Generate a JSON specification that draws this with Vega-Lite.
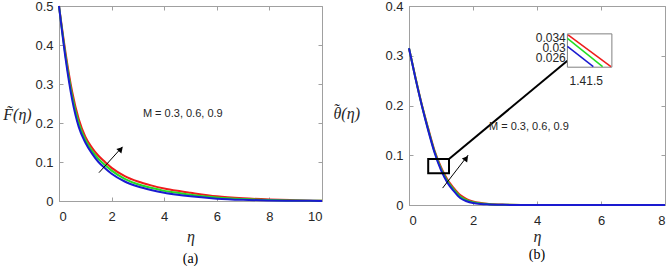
{
  "$schema": "https://vega.github.io/schema/vega-lite/v6.json",
  "padding": {"left": 2, "top": -1, "right": 0, "bottom": 0},
  "spacing": 5,
  "background": "white",
  "config": {
    "view": {"stroke": "#a0a0a0", "strokeWidth": 1},
    "font": "Liberation Sans",
    "axis": {
      "grid": false,
      "domainColor": "#a0a0a0",
      "tickColor": "#a0a0a0",
      "tickSize": -4,
      "labelPadding": 13,
      "labelColor": "#262626",
      "labelFont": "Liberation Sans",
      "labelFontSize": 13,
      "format": "~r",
      "titleFont": "Liberation Serif",
      "titleFontStyle": "italic",
      "titleFontWeight": "normal",
      "titleFontSize": 16,
      "titleColor": "#262626"
    }
  },
  "datasets": {
    "fa": [
      {"e": 0, "v": 0.5, "M": "0.9"}, {"e": 0.25, "v": 0.38, "M": "0.9"}, {"e": 0.5, "v": 0.28, "M": "0.9"}, {"e": 0.75, "v": 0.21, "M": "0.9"}, {"e": 1, "v": 0.165, "M": "0.9"}, {"e": 1.25, "v": 0.137, "M": "0.9"}, {"e": 1.5, "v": 0.116, "M": "0.9"}, {"e": 1.75, "v": 0.1, "M": "0.9"}, {"e": 2, "v": 0.085, "M": "0.9"}, {"e": 2.5, "v": 0.064, "M": "0.9"}, {"e": 3, "v": 0.05, "M": "0.9"}, {"e": 3.5, "v": 0.04, "M": "0.9"}, {"e": 4, "v": 0.032, "M": "0.9"}, {"e": 4.5, "v": 0.026, "M": "0.9"}, {"e": 5, "v": 0.021, "M": "0.9"}, {"e": 6, "v": 0.012, "M": "0.9"}, {"e": 7, "v": 0.007, "M": "0.9"}, {"e": 8, "v": 0.004, "M": "0.9"}, {"e": 9, "v": 0.002, "M": "0.9"}, {"e": 10, "v": 0.0005, "M": "0.9"},
      {"e": 0, "v": 0.5, "M": "0.6"}, {"e": 0.25, "v": 0.372, "M": "0.6"}, {"e": 0.5, "v": 0.27, "M": "0.6"}, {"e": 0.75, "v": 0.2, "M": "0.6"}, {"e": 1, "v": 0.157, "M": "0.6"}, {"e": 1.25, "v": 0.129, "M": "0.6"}, {"e": 1.5, "v": 0.108, "M": "0.6"}, {"e": 1.75, "v": 0.092, "M": "0.6"}, {"e": 2, "v": 0.078, "M": "0.6"}, {"e": 2.5, "v": 0.057, "M": "0.6"}, {"e": 3, "v": 0.043, "M": "0.6"}, {"e": 3.5, "v": 0.034, "M": "0.6"}, {"e": 4, "v": 0.026, "M": "0.6"}, {"e": 4.5, "v": 0.021, "M": "0.6"}, {"e": 5, "v": 0.016, "M": "0.6"}, {"e": 6, "v": 0.009, "M": "0.6"}, {"e": 7, "v": 0.005, "M": "0.6"}, {"e": 8, "v": 0.0027, "M": "0.6"}, {"e": 9, "v": 0.0013, "M": "0.6"}, {"e": 10, "v": 0.0004, "M": "0.6"},
      {"e": 0, "v": 0.5, "M": "0.3"}, {"e": 0.25, "v": 0.365, "M": "0.3"}, {"e": 0.5, "v": 0.26, "M": "0.3"}, {"e": 0.75, "v": 0.19, "M": "0.3"}, {"e": 1, "v": 0.15, "M": "0.3"}, {"e": 1.25, "v": 0.122, "M": "0.3"}, {"e": 1.5, "v": 0.1, "M": "0.3"}, {"e": 1.75, "v": 0.084, "M": "0.3"}, {"e": 2, "v": 0.07, "M": "0.3"}, {"e": 2.5, "v": 0.05, "M": "0.3"}, {"e": 3, "v": 0.037, "M": "0.3"}, {"e": 3.5, "v": 0.028, "M": "0.3"}, {"e": 4, "v": 0.021, "M": "0.3"}, {"e": 4.5, "v": 0.016, "M": "0.3"}, {"e": 5, "v": 0.012, "M": "0.3"}, {"e": 6, "v": 0.006, "M": "0.3"}, {"e": 7, "v": 0.003, "M": "0.3"}, {"e": 8, "v": 0.0015, "M": "0.3"}, {"e": 9, "v": 0.0007, "M": "0.3"}, {"e": 10, "v": 0.0003, "M": "0.3"}
    ],
    "fb": [
      {"e": 0, "v": 0.315, "M": "0.9"}, {"e": 0.2, "v": 0.257, "M": "0.9"}, {"e": 0.4, "v": 0.202, "M": "0.9"}, {"e": 0.6, "v": 0.154, "M": "0.9"}, {"e": 0.8, "v": 0.109, "M": "0.9"}, {"e": 1, "v": 0.076, "M": "0.9"}, {"e": 1.2, "v": 0.051, "M": "0.9"}, {"e": 1.4, "v": 0.034, "M": "0.9"}, {"e": 1.6, "v": 0.02, "M": "0.9"}, {"e": 1.8, "v": 0.012, "M": "0.9"}, {"e": 2, "v": 0.007, "M": "0.9"}, {"e": 2.25, "v": 0.004, "M": "0.9"}, {"e": 2.5, "v": 0.0022, "M": "0.9"}, {"e": 3, "v": 0.0007, "M": "0.9"}, {"e": 3.5, "v": 0.0002, "M": "0.9"}, {"e": 4, "v": 0.0001, "M": "0.9"}, {"e": 5, "v": 0, "M": "0.9"}, {"e": 6, "v": 0, "M": "0.9"}, {"e": 7, "v": 0, "M": "0.9"}, {"e": 8, "v": 0, "M": "0.9"},
      {"e": 0, "v": 0.315, "M": "0.6"}, {"e": 0.2, "v": 0.256, "M": "0.6"}, {"e": 0.4, "v": 0.201, "M": "0.6"}, {"e": 0.6, "v": 0.152, "M": "0.6"}, {"e": 0.8, "v": 0.107, "M": "0.6"}, {"e": 1, "v": 0.073, "M": "0.6"}, {"e": 1.2, "v": 0.048, "M": "0.6"}, {"e": 1.4, "v": 0.031, "M": "0.6"}, {"e": 1.6, "v": 0.017, "M": "0.6"}, {"e": 1.8, "v": 0.0095, "M": "0.6"}, {"e": 2, "v": 0.0055, "M": "0.6"}, {"e": 2.25, "v": 0.003, "M": "0.6"}, {"e": 2.5, "v": 0.0017, "M": "0.6"}, {"e": 3, "v": 0.0005, "M": "0.6"}, {"e": 3.5, "v": 0.0001, "M": "0.6"}, {"e": 4, "v": 0, "M": "0.6"}, {"e": 5, "v": 0, "M": "0.6"}, {"e": 6, "v": 0, "M": "0.6"}, {"e": 7, "v": 0, "M": "0.6"}, {"e": 8, "v": 0, "M": "0.6"},
      {"e": 0, "v": 0.315, "M": "0.3"}, {"e": 0.2, "v": 0.255, "M": "0.3"}, {"e": 0.4, "v": 0.2, "M": "0.3"}, {"e": 0.6, "v": 0.15, "M": "0.3"}, {"e": 0.8, "v": 0.105, "M": "0.3"}, {"e": 1, "v": 0.07, "M": "0.3"}, {"e": 1.2, "v": 0.045, "M": "0.3"}, {"e": 1.4, "v": 0.028, "M": "0.3"}, {"e": 1.6, "v": 0.014, "M": "0.3"}, {"e": 1.8, "v": 0.0075, "M": "0.3"}, {"e": 2, "v": 0.004, "M": "0.3"}, {"e": 2.25, "v": 0.002, "M": "0.3"}, {"e": 2.5, "v": 0.0012, "M": "0.3"}, {"e": 3, "v": 0.0003, "M": "0.3"}, {"e": 3.5, "v": 0.0001, "M": "0.3"}, {"e": 4, "v": 0, "M": "0.3"}, {"e": 5, "v": 0, "M": "0.3"}, {"e": 6, "v": 0, "M": "0.3"}, {"e": 7, "v": 0, "M": "0.3"}, {"e": 8, "v": 0, "M": "0.3"}
    ]
  },
  "hconcat": [
    {
      "width": 263,
      "height": 195,
      "title": {"text": "(a)", "orient": "bottom", "font": "Liberation Serif", "fontSize": 14, "fontWeight": "normal", "color": "#000000", "offset": 8},
      "resolve": {"axis": {"x": "independent", "y": "independent"}},
      "layer": [
        {
          "data": {"name": "fa"},
          "mark": {"type": "line", "strokeWidth": 2, "interpolate": "monotone"},
          "encoding": {
            "x": {"field": "e", "type": "quantitative", "scale": {"domain": [0, 10], "nice": false, "zero": false},
                  "axis": {"values": [0, 2, 4, 6, 8, 10], "title": "\u03b7", "titlePadding": 5}},
            "y": {"field": "v", "type": "quantitative", "scale": {"domain": [0, 0.5], "nice": false},
                  "axis": {"values": [0, 0.1, 0.2, 0.3, 0.4, 0.5], "title": "F\u0303(\u03b7)", "titleAngle": 0, "titleX": -42, "titleY": 108, "titleAlign": "center", "titleBaseline": "middle", "labelPadding": 10}},
            "color": {"field": "M", "type": "nominal", "scale": {"domain": ["0.9", "0.6", "0.3"], "range": ["#ee1c1c", "#22dd22", "#1a1ad0"]}, "legend": null}
          }
        },
        {
          "data": {"values": [{"x": 1.52, "y": 0.0726, "x2": 2.41, "y2": 0.139}]},
          "mark": {"type": "rule", "color": "#000000", "strokeWidth": 1},
          "encoding": {
            "x": {"field": "x", "type": "quantitative", "axis": {"orient": "top", "values": [0, 2, 4, 6, 8, 10], "labels": false, "title": null, "domain": false}},
            "y": {"field": "y", "type": "quantitative", "axis": {"orient": "right", "values": [0, 0.1, 0.2, 0.3, 0.4, 0.5], "labels": false, "title": null, "domain": false}},
            "x2": {"field": "x2"},
            "y2": {"field": "y2"}
          }
        },
        {
          "data": {"values": [{"x": 2.35, "y": 0.133}]},
          "mark": {"type": "point", "shape": "triangle-up", "filled": true, "color": "#000000", "size": 45, "angle": 42, "opacity": 1},
          "encoding": {
            "x": {"field": "x", "type": "quantitative", "axis": null},
            "y": {"field": "y", "type": "quantitative", "axis": null}
          }
        },
        {
          "data": {"values": [{"x": 3.19, "y": 0.223, "t": "M = 0.3, 0.6, 0.9"}]},
          "mark": {"type": "text", "align": "left", "baseline": "middle", "fontSize": 11, "font": "Liberation Sans", "color": "#262626"},
          "encoding": {
            "x": {"field": "x", "type": "quantitative", "axis": null},
            "y": {"field": "y", "type": "quantitative", "axis": null},
            "text": {"field": "t"}
          }
        }
      ]
    },
    {
      "width": 256,
      "height": 199,
      "title": {"text": "(b)", "orient": "bottom", "font": "Liberation Serif", "fontSize": 14, "fontWeight": "normal", "color": "#000000", "offset": 4},
      "resolve": {"axis": {"x": "independent", "y": "independent"}},
      "layer": [
        {
          "data": {"name": "fb"},
          "mark": {"type": "line", "strokeWidth": 2, "interpolate": "monotone"},
          "encoding": {
            "x": {"field": "e", "type": "quantitative", "scale": {"domain": [0, 8], "nice": false, "zero": false},
                  "axis": {"values": [0, 2, 4, 6, 8], "title": "\u03b7", "titlePadding": 1}},
            "y": {"field": "v", "type": "quantitative", "scale": {"domain": [0, 0.4], "nice": false},
                  "axis": {"values": [0, 0.1, 0.2, 0.3, 0.4], "title": ["\u200a\u02dc", "\u03b8(\u03b7)"], "titleLineHeight": 4, "titleFontSize": 16, "titleAngle": 0, "titleX": -76, "titleY": 103, "titleAlign": "left", "titleBaseline": "middle", "labelPadding": 10}},
            "color": {"field": "M", "type": "nominal", "scale": {"domain": ["0.9", "0.6", "0.3"], "range": ["#ee1c1c", "#22dd22", "#1a1ad0"]}, "legend": null}
          }
        },
        {
          "data": {"values": [{"x": 0.6, "x2": 1.25, "y": 0.064, "y2": 0.0925}]},
          "mark": {"type": "rect", "fillOpacity": 0, "stroke": "#000000", "strokeWidth": 2},
          "encoding": {
            "x": {"field": "x", "type": "quantitative", "axis": {"orient": "top", "values": [0, 2, 4, 6, 8], "labels": false, "title": null, "domain": false}},
            "x2": {"field": "x2"},
            "y": {"field": "y", "type": "quantitative", "axis": {"orient": "right", "values": [0, 0.1, 0.2, 0.3, 0.4], "labels": false, "title": null, "domain": false}},
            "y2": {"field": "y2"}
          }
        },
        {
          "data": {"values": [{"x": 1.25, "y": 0.0925, "x2": 4.95, "y2": 0.29}]},
          "mark": {"type": "rule", "color": "#000000", "strokeWidth": 2},
          "encoding": {
            "x": {"field": "x", "type": "quantitative", "axis": null},
            "y": {"field": "y", "type": "quantitative", "axis": null},
            "x2": {"field": "x2"},
            "y2": {"field": "y2"}
          }
        },
        {
          "data": {"values": [{"x": 4.95, "x2": 6.34, "y": 0.277, "y2": 0.344}]},
          "mark": {"type": "rect", "fill": "#ffffff", "stroke": "#808080", "strokeWidth": 1},
          "encoding": {
            "x": {"field": "x", "type": "quantitative", "axis": null},
            "x2": {"field": "x2"},
            "y": {"field": "y", "type": "quantitative", "axis": null},
            "y2": {"field": "y2"}
          }
        },
        {
          "data": {"values": [
            {"x": 4.97, "y": 0.342, "x2": 6.31, "y2": 0.278, "M": "0.9"},
            {"x": 4.95, "y": 0.335, "x2": 6.05, "y2": 0.278, "M": "0.6"},
            {"x": 4.95, "y": 0.319, "x2": 5.76, "y2": 0.278, "M": "0.3"}
          ]},
          "mark": {"type": "rule", "strokeWidth": 1.5},
          "encoding": {
            "x": {"field": "x", "type": "quantitative", "axis": null},
            "y": {"field": "y", "type": "quantitative", "axis": null},
            "x2": {"field": "x2"},
            "y2": {"field": "y2"},
            "color": {"field": "M", "type": "nominal", "scale": {"domain": ["0.9", "0.6", "0.3"], "range": ["#ee1c1c", "#22dd22", "#1a1ad0"]}, "legend": null}
          }
        },
        {
          "data": {"values": [
            {"x": 4.9, "y": 0.3357, "t": "0.034"},
            {"x": 4.9, "y": 0.316, "t": "0.03"},
            {"x": 4.9, "y": 0.295, "t": "0.026"},
            {"x": 6.06, "y": 0.25, "t": "1.41.5"}
          ]},
          "mark": {"type": "text", "align": "right", "baseline": "middle", "fontSize": 12, "font": "Liberation Sans", "color": "#262626"},
          "encoding": {
            "x": {"field": "x", "type": "quantitative", "axis": null},
            "y": {"field": "y", "type": "quantitative", "axis": null},
            "text": {"field": "t"}
          }
        },
        {
          "data": {"values": [{"x": 1.05, "y": 0.034, "x2": 1.85, "y2": 0.1005}]},
          "mark": {"type": "rule", "color": "#000000", "strokeWidth": 1},
          "encoding": {
            "x": {"field": "x", "type": "quantitative", "axis": null},
            "y": {"field": "y", "type": "quantitative", "axis": null},
            "x2": {"field": "x2"},
            "y2": {"field": "y2"}
          }
        },
        {
          "data": {"values": [{"x": 1.79, "y": 0.094}]},
          "mark": {"type": "point", "shape": "triangle-up", "filled": true, "color": "#000000", "size": 45, "angle": 38, "opacity": 1},
          "encoding": {
            "x": {"field": "x", "type": "quantitative", "axis": null},
            "y": {"field": "y", "type": "quantitative", "axis": null}
          }
        },
        {
          "data": {"values": [{"x": 2.5, "y": 0.156, "t": "M = 0.3, 0.6, 0.9"}]},
          "mark": {"type": "text", "align": "left", "baseline": "middle", "fontSize": 11, "font": "Liberation Sans", "color": "#262626"},
          "encoding": {
            "x": {"field": "x", "type": "quantitative", "axis": null},
            "y": {"field": "y", "type": "quantitative", "axis": null},
            "text": {"field": "t"}
          }
        }
      ]
    }
  ]
}
